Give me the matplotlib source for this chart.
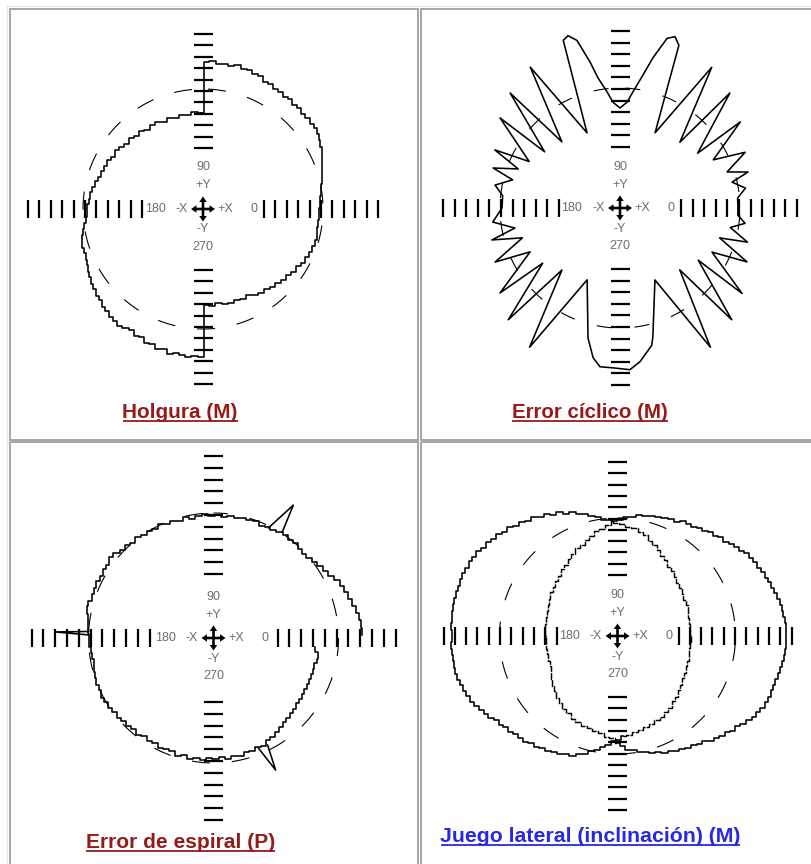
import numpy as np
import matplotlib
matplotlib.use("Agg")
import matplotlib.pyplot as plt

W, H = 811, 864
plt.rcParams['lines.scale_dashes'] = False
plt.rcParams['font.family'] = ['Liberation Sans', 'DejaVu Sans']

# ---------------- data ----------------
titles = ["Holgura (M)", "Error cíclico (M)", "Error de espiral (P)",
          "Juego lateral (inclinación) (M)"]
title_colors = ["#951b1b", "#951b1b", "#951b1b", "#2727e6"]
axis_labels = ["90", "+Y", "-Y", "270", "180", "-X", "+X", "0"]
n_scale_ticks = 11

# Panel 1 - Holgura: two half traces (plot units = px)
hol_left_offset = (-2, -26)
hol_left_ang = np.arange(90, 271, 3)
hol_left_r = [122, 123, 121, 122, 120, 121, 119, 121, 120, 118,
              120, 118, 120, 117, 119, 120, 117, 119, 117, 118,
              116, 119, 117, 119, 116, 118, 117, 115, 118, 117,
              120, 118, 121, 116, 118, 117, 119, 118, 120, 119,
              121, 119, 122, 120, 123, 121, 123, 120, 118, 120,
              118, 121, 119, 122, 120, 123, 121, 122, 123, 121,
              122]
hol_right_offset = (3, 25)
hol_right_ang = np.arange(-90, 91, 3)
hol_right_r = [121, 122, 120, 121, 122, 120, 121, 119, 121, 122,
               121, 123, 122, 124, 122, 124, 123, 126, 124, 125,
               123, 124, 121, 120, 117, 118, 115, 116, 114, 116,
               115, 117, 116, 119, 118, 121, 120, 123, 122, 124,
               121, 122, 119, 121, 118, 120, 117, 119, 117, 119,
               118, 121, 120, 122, 121, 123, 121, 122, 121, 123,
               122]
hol_ref_r = 120

# Panel 2 - Error ciclico: trace vertices (angle deg, radius)
cyc_ang = [0, 4.8, 9, 13, 15.7, 18.6, 24, 27.3, 35.6, 35.2, 46.3, 47.7, 56.9, 65,
           70.1, 72.2, 74.5, 77.6, 80.2, 83.6, 86.2, 90, 93.8, 96.4, 99.6, 101.6,
           104.4, 106.8, 108.7, 113.7, 122.5, 131.3, 133.7, 143.3, 143.1, 152.9,
           155.1, 159, 162.5, 165.3, 169.6, 174, 180, 186.3, 190.8, 194, 197,
           203.4, 206, 215.3, 215.5, 225, 226.9, 237, 245.4, 256.2, 259.8, 262.8,
           267.5, 273.5, 277.4, 283, 284.3, 295.9, 303, 314, 315, 326.3, 325,
           334.4, 337, 343.3, 345, 350, 353, 356.6, 360]
cyc_r = [118, 118, 127, 115, 133, 113, 137, 105, 148, 95, 159, 89, 168, 83,
         173, 180, 176, 154, 135, 117, 106, 100, 106, 117, 132, 149,
         173, 180, 177, 82, 167, 88, 159, 94, 150, 102,
         138, 109, 133, 111, 127, 118, 118, 128, 107, 132, 102,
         136, 100, 147, 95, 158, 85, 166, 79, 134, 152, 160,
         160, 162, 155, 141, 133, 80, 166, 86, 158, 94, 149,
         102, 138, 104, 132, 112, 126, 118, 118]
cyc_ref_r = 120

# Panel 3 - Error de espiral
spi_ang = np.arange(1, 356, 3)
spi_r = [149, 148, 148, 146, 144, 142, 141, 138, 137, 133,
         131, 128, 126, 125, 123, 124, 126, 124, 126, 125,
         123, 124, 122, 125, 123, 124, 122, 123, 121, 123,
         122, 124, 123, 121, 124, 122, 124, 123, 126, 123,
         125, 124, 127, 124, 127, 126, 129, 131, 128, 130,
         127, 130, 128, 129, 127, 133, 127, 128, 125, 126,
         124, 125, 122, 123, 121, 125, 124, 126, 124, 127,
         124, 126, 123, 125, 122, 123, 121, 123, 120, 122,
         120, 122, 121, 120, 123, 121, 123, 121, 122, 120,
         121, 119, 122, 120, 121, 119, 120, 118, 119, 116,
         115, 113, 112, 110, 110, 108, 108, 106, 107, 105,
         106, 104, 106, 104, 105, 103, 110, 103, 102]
spi_spike_ang = [[57, 59, 63.5], [177, 177.8, 178.6], [292.2, 295.2, 296.8]]
spi_spike_r = [[126, 155, 123], [125, 158, 125], [119, 146, 120]]
spi_ref_r = 125

# Panel 4 - Juego lateral: two circles
lat_left_offset = (-45, 0)
lat_right_offset = (47, 0)
lat_ang = np.arange(0, 360, 3)
lat_left_r = [118, 117, 119, 117, 118, 119, 117, 118, 119, 117,
              118, 120, 118, 121, 120, 122, 123, 122, 125, 124,
              125, 122, 123, 121, 122, 120, 122, 121, 123, 122,
              124, 122, 125, 123, 125, 123, 125, 123, 125, 124,
              126, 124, 126, 125, 127, 125, 127, 126, 127, 125,
              127, 125, 124, 125, 123, 124, 122, 123, 121, 122,
              120, 122, 121, 123, 121, 123, 122, 123, 121, 122,
              120, 121, 119, 118, 116, 116, 113, 114, 113, 115,
              113, 115, 116, 115, 117, 116, 118, 117, 119, 118,
              120, 118, 119, 116, 117, 115, 115, 113, 114, 112,
              114, 114, 116, 117, 119, 119, 121, 120, 122, 120,
              121, 119, 120, 118, 119, 117, 119, 118, 117, 119]
lat_right_r = [122, 121, 123, 121, 120, 121, 119, 120, 118, 119,
               117, 118, 116, 118, 116, 117, 115, 114, 114, 112,
               114, 112, 114, 113, 114, 113, 115, 116, 115, 117,
               118, 119, 121, 122, 124, 123, 125, 124, 126, 125,
               124, 125, 123, 124, 122, 124, 122, 123, 121, 123,
               121, 122, 120, 122, 120, 121, 119, 121, 119, 120,
               119, 118, 120, 118, 119, 117, 120, 121, 123, 122,
               124, 123, 125, 123, 124, 122, 121, 119, 118, 116,
               117, 115, 117, 118, 120, 118, 119, 117, 118, 116,
               117, 115, 116, 114, 115, 113, 114, 113, 115, 114,
               116, 115, 117, 116, 118, 119, 121, 120, 122, 121,
               122, 120, 121, 119, 121, 120, 122, 121, 123, 121]
lat_ref_r = 118

assert len(hol_left_r) == len(hol_left_ang)
assert len(hol_right_r) == len(hol_right_ang)
assert len(cyc_r) == len(cyc_ang)
assert len(spi_r) == len(spi_ang)
assert len(lat_left_r) == len(lat_ang) == len(lat_right_r)

# ---------------- layout ----------------
fig = plt.figure(figsize=(W / 100, H / 100), dpi=100)
bg = fig.add_axes([0, 0, 1, 1])
bg.set_xlim(0, W)
bg.set_ylim(H, 0)
bg.axis('off')

cells = [(10, 9, 417.5, 439.5), (420.5, 9, 812, 439.5),
         (10, 442, 417.5, 866), (420.5, 442, 812, 866)]
centers = [(203, 209), (620, 208), (213.5, 638), (617.5, 636)]
tick_span = [(61, 175), (61, 177), (64, 182), (61, 174)]
title_geom = [(180, 418, 115), (590, 418, 156), (180.5, 848, 189), (590.5, 842, 299)]

# table borders
bg.add_patch(plt.Rectangle((6.5, 6), W, H, fill=False, ec='#e4e4e4', lw=0.8))
for (x0, y0, x1, y1) in cells:
    bg.add_patch(plt.Rectangle((x0, y0), x1 - x0, y1 - y0, fill=False,
                               ec='#a6a6a6', lw=1.4))

label_pos = [(0, 41.5), (0, 23.5), (0, -20.5), (0, -38),
             (-48, 0), (-21.5, 0), (22.5, 0), (51, 0)]


def pxy(ang, r, off=(0, 0)):
    a = np.radians(np.asarray(ang, dtype=float))
    r = np.asarray(r, dtype=float)
    return off[0] + r * np.cos(a), off[1] + r * np.sin(a)


def ref_circle(ax, r, on=18, off=22):
    a = np.linspace(90, 450, 721)
    x, y = pxy(a, np.full_like(a, r))
    px2pt = 0.72
    ax.plot(x, y, color='black', lw=0.8,
            linestyle=((on + off / 2) * px2pt, (on * px2pt, off * px2pt)))


def split_arc(ang, r, a0, a1):
    """Return (inside [a0, a1]) and (wrapped outside a1 -> 360 -> a0) pieces."""
    ang = np.asarray(ang)
    r = np.asarray(r)
    m = (ang >= a0) & (ang <= a1)
    m1 = ang >= a1
    m2 = ang <= a0
    return (ang[m], r[m]), (np.r_[ang[m1], ang[m2]], np.r_[r[m1], r[m2]])


axes = []
for i, ((x0, y0, x1, y1), (cx, cy)) in enumerate(zip(cells, centers)):
    ax = fig.add_axes([x0 / W, 1 - y1 / H, (x1 - x0) / W, (y1 - y0) / H])
    ax.set_xlim(x0 - cx, x1 - cx)
    ax.set_ylim(cy - y1, cy - y0)
    ax.axis('off')
    axes.append(ax)
    r0, r1 = tick_span[i]
    for k in range(n_scale_ticks):
        r = r0 + k * (r1 - r0) / (n_scale_ticks - 1)
        for s in (-1, 1):
            ax.plot([s * r, s * r], [-9, 9], color='black', lw=1.6,
                    solid_capstyle='butt')
            ax.plot([-9.5, 9.5], [s * r, s * r], color='black', lw=1.6,
                    solid_capstyle='butt')
    for txt, (lx, ly) in zip(axis_labels, label_pos):
        ax.text(lx, ly, txt, ha='center', va='center', fontsize=9,
                color='#6e6e6e', family='Liberation Sans')
    for dx, dy in [(1, 0), (-1, 0), (0, 1), (0, -1)]:
        ax.arrow(0, 0, 12 * dx, 12.5 * dy, width=2.6, head_width=7.5,
                 head_length=5.5, length_includes_head=True, fc='black',
                 ec='black', lw=0)

trace_kw = dict(color='black', lw=1.15)

# Panel 1
ax = axes[0]
ref_circle(ax, hol_ref_r)
lx, ly = pxy(hol_left_ang, hol_left_r, hol_left_offset)
rx, ry = pxy(hol_right_ang, hol_right_r, hol_right_offset)
ax.plot(np.r_[lx, rx, lx[:1]], np.r_[ly, ry, ly[:1]], drawstyle='steps-mid',
        **trace_kw)

# Panel 2
ax = axes[1]
ref_circle(ax, cyc_ref_r, on=15, off=23)
x, y = pxy(cyc_ang, cyc_r)
ax.plot(x, y, **trace_kw)

# Panel 3
ax = axes[2]
ref_circle(ax, spi_ref_r)
x, y = pxy(spi_ang, spi_r)
ax.plot(x, y, drawstyle='steps-mid', **trace_kw)
for sa, sr in zip(spi_spike_ang, spi_spike_r):
    x, y = pxy(sa, sr)
    ax.plot(x, y, **trace_kw)

# Panel 4: outer contour solid, inner (lens) parts with a fine broken line
ax = axes[3]
ref_circle(ax, lat_ref_r)
lens_kw = dict(color='black', lw=1.05, linestyle=(0, (5.0, 0.8)))
(l_out_a, l_out_r), (l_in_a, l_in_r) = split_arc(lat_ang, lat_left_r, 72, 297)
(r_in_a, r_in_r), (r_out_a, r_out_r) = split_arc(lat_ang, lat_right_r, 114, 246)
for a, r, off, kw in [(l_out_a, l_out_r, lat_left_offset, trace_kw),
                      (l_in_a, l_in_r, lat_left_offset, lens_kw),
                      (r_out_a, r_out_r, lat_right_offset, trace_kw),
                      (r_in_a, r_in_r, lat_right_offset, lens_kw)]:
    x, y = pxy(a, r, off)
    ax.plot(x, y, drawstyle='steps-mid', **kw)

# titles with underline
fig.canvas.draw()
renderer = fig.canvas.get_renderer()
for text, color, (tx, ty, tw) in zip(titles, title_colors, title_geom):
    t = bg.text(tx, ty, text, ha='center', va='baseline', fontsize=12,
                fontweight='bold', color=color, family='Liberation Sans')
    w = t.get_window_extent(renderer).width
    t.set_fontsize(12 * tw / w)
    bg.plot([tx - tw / 2, tx + tw / 2], [ty + 2.5, ty + 2.5], color=color,
            lw=1.3, solid_capstyle='butt')

fig.savefig("out.png", dpi=100)
